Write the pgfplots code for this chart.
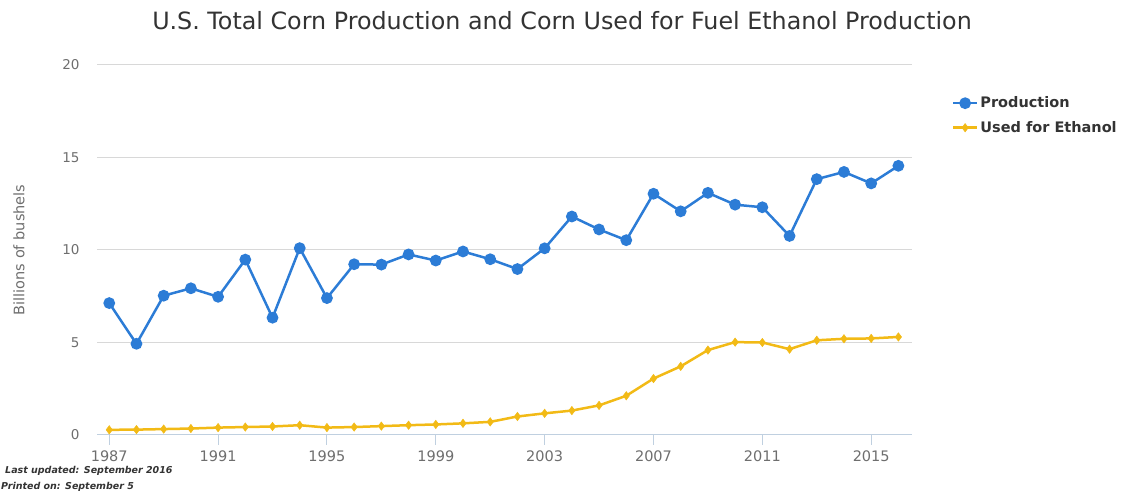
\documentclass[border=0pt]{standalone}
\usepackage{fontspec}
\setmainfont{DejaVu Sans}
\usepackage{pgfplots}
\pgfplotsset{compat=1.18}
\definecolor{prodblue}{RGB}{44,124,214}
\definecolor{ethyellow}{RGB}{242,186,22}
\definecolor{gridgray}{RGB}{216,216,216}
\definecolor{axisgray}{RGB}{192,208,224}
\definecolor{ticktext}{RGB}{110,110,110}
\definecolor{titletext}{RGB}{51,51,51}

\begin{document}
\begin{tikzpicture}[x=1pt,y=1pt]
\path (0,0) rectangle (1124,492);
\begin{axis}[
  at={(97pt,57pt)}, anchor=south west,
  scale only axis, width=815pt, height=370pt,
  xmin=1986.55, xmax=2016.5, ymin=0, ymax=20,
  xtick={1987,1991,...,2015}, ytick={0,5,...,20},
  axis x line*=bottom, axis y line*=left,
  x axis line style={draw=axisgray, line width=1pt, -},
  y axis line style={draw=none},
  ymajorgrids, grid style={draw=gridgray, line width=1pt},
  xtick style={draw=axisgray, line width=1pt},
  ytick style={draw=none},
  tick align=outside, major tick length=10pt,
  /pgf/number format/assume math mode=true,
  xticklabel style={/pgf/number format/1000 sep={}, font=\fontsize{14.5}{16}\selectfont, text=ticktext},
  yticklabel style={font=\fontsize{13.5}{16}\selectfont, text=ticktext},
  xticklabel shift=2pt, yticklabel shift=4pt,
  legend style={at={(1.045,0.925)}, anchor=north west, draw=none,
    font=\bfseries\fontsize{14.5}{17}\selectfont, text=titletext,
    row sep=8pt},
  legend cell align=left,
  legend image code/.code={
    \draw[#1, mark repeat=2, mark phase=2] plot coordinates {(0pt,0pt) (12pt,0pt) (24pt,0pt)};
  },
]
\addplot[prodblue, line width=2.5pt, mark=*, mark size=4.6pt, mark options={fill=prodblue, draw=prodblue}]
coordinates {
(1987,7.13) (1988,4.93) (1989,7.53) (1990,7.93) (1991,7.47) (1992,9.48)
(1993,6.34) (1994,10.10) (1995,7.40) (1996,9.23) (1997,9.21) (1998,9.76)
(1999,9.43) (2000,9.92) (2001,9.50) (2002,8.97) (2003,10.09) (2004,11.81)
(2005,11.11) (2006,10.53) (2007,13.04) (2008,12.09) (2009,13.09) (2010,12.45)
(2011,12.31) (2012,10.76) (2013,13.83) (2014,14.22) (2015,13.60) (2016,14.55)
};
\addlegendentry{Production}
\addplot[ethyellow, line width=2.5pt, mark=diamond*, mark size=4.2pt, mark options={fill=ethyellow, draw=ethyellow, line width=0.5pt}]
coordinates {
(1987,0.28) (1988,0.29) (1989,0.32) (1990,0.35) (1991,0.40) (1992,0.43)
(1993,0.46) (1994,0.53) (1995,0.40) (1996,0.43) (1997,0.48) (1998,0.53)
(1999,0.57) (2000,0.63) (2001,0.71) (2002,1.00) (2003,1.17) (2004,1.32)
(2005,1.60) (2006,2.12) (2007,3.05) (2008,3.71) (2009,4.59) (2010,5.02)
(2011,5.00) (2012,4.64) (2013,5.12) (2014,5.20) (2015,5.22) (2016,5.30)
};
\addlegendentry{Used for Ethanol}
\end{axis}
\node[text=titletext, font=\fontsize{23.8}{28}\selectfont] at (562,471) {U.S. Total Corn Production and Corn Used for Fuel Ethanol Production};
\node[rotate=90, text=ticktext, font=\fontsize{14.5}{17}\selectfont] at (19,242) {Billions of bushels};
\node[anchor=base west, font=\itshape\bfseries\fontsize{9.5}{12}\selectfont, text=titletext, inner sep=0pt] at (5,18) {Last updated: September 2016};
\node[anchor=base west, font=\itshape\bfseries\fontsize{9.5}{12}\selectfont, text=titletext, inner sep=0pt] at (1,2) {Printed on: September 5};
\end{tikzpicture}
\end{document}
